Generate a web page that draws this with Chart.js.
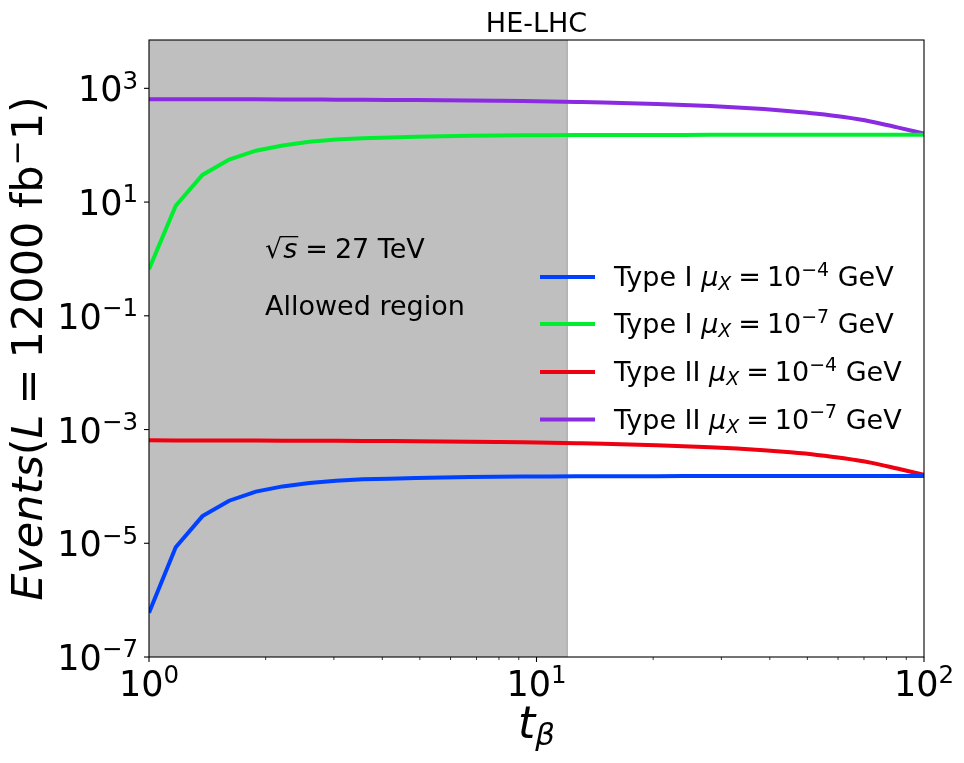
<!DOCTYPE html>
<html>
<head>
<meta charset="utf-8">
<script src="https://cdn.jsdelivr.net/npm/chart.js@4.4.1/dist/chart.umd.min.js"></script>
<style>
html,body{margin:0;padding:0;background:#fff;}
#wrap{width:964px;height:763px;}
</style>
</head>
<body>
<div id="wrap"><canvas id="c" width="964" height="763"></canvas></div>
<script>
// ---- data ----
const tBeta = [1, 1.172, 1.374, 1.610, 1.887, 2.212, 2.593, 3.039, 3.562, 4.175, 4.894, 5.736, 6.723, 7.880, 9.237,
  10.83, 12.69, 14.87, 17.43, 20.43, 23.95, 28.07, 32.90, 38.57, 45.20, 52.98, 62.10, 72.79, 85.32, 100];
const typeI_mu4 = [6.0e-7, 8.5e-6, 3.0e-5, 5.6e-5, 8.1e-5, 1.00e-4, 1.15e-4, 1.26e-4, 1.33e-4, 1.37e-4, 1.41e-4, 1.44e-4, 1.46e-4, 1.48e-4, 1.49e-4,
  1.50e-4, 1.505e-4, 1.51e-4, 1.513e-4, 1.516e-4, 1.518e-4, 1.52e-4, 1.522e-4, 1.523e-4, 1.524e-4, 1.525e-4, 1.526e-4, 1.527e-4, 1.528e-4, 1.528e-4];
const typeI_mu7 = [0.66, 8.6, 30, 56, 80, 99, 115, 126, 133, 137, 141, 144, 146, 148, 149,
  150, 150.5, 151, 151.3, 151.6, 151.8, 152, 152.2, 152.3, 152.4, 152.5, 152.6, 152.7, 152.8, 152.8];
const typeII_mu4 = [6.45e-4, 6.44e-4, 6.43e-4, 6.42e-4, 6.40e-4, 6.38e-4, 6.36e-4, 6.33e-4, 6.30e-4, 6.26e-4, 6.22e-4, 6.17e-4, 6.11e-4, 6.04e-4, 5.96e-4,
  5.86e-4, 5.75e-4, 5.63e-4, 5.48e-4, 5.30e-4, 5.10e-4, 4.88e-4, 4.62e-4, 4.32e-4, 3.97e-4, 3.58e-4, 3.13e-4, 2.62e-4, 2.06e-4, 1.60e-4];
const typeII_mu7 = [645, 644, 643, 642, 640, 638, 636, 633, 630, 626, 622, 617, 611, 604, 596,
  586, 575, 563, 548, 530, 510, 488, 462, 432, 397, 358, 313, 262, 206, 160];
const seriesNames = ['Type I', 'Type I', 'Type II', 'Type II'];
const seriesExp = ['−4', '−7', '−4', '−7'];
const seriesColors = ['#0040ff', '#00ee30', '#ee0010', '#8a2be2'];
const xTicks = [1, 10, 100];
const xTickExp = ['0', '1', '2'];
const yTicks = [1e-7, 1e-5, 1e-3, 1e-1, 1e1, 1e3];
const yTickExp = ['−7', '−5', '−3', '−1', '1', '3'];
const allowedMax = 12;
const titleText = 'HE-LHC';

const FF = '"DejaVu Sans", sans-serif';
function segFont(s, size){
  const sz = (s.sup || s.sub) ? size * 0.7 : size;
  return (s.it ? 'italic ' : '') + sz.toFixed(2) + 'px ' + FF;
}
function richWidth(ctx, segs, size){
  let w = 0;
  for (const s of segs){ ctx.font = segFont(s, size); w += ctx.measureText(s.t).width + (s.gap || 0); }
  return w;
}
function drawRich(ctx, x, y, segs, size, align, supRaise){
  const w = richWidth(ctx, segs, size);
  let cx = align === 'center' ? x - w / 2 : (align === 'right' ? x - w : x);
  ctx.textAlign = 'left'; ctx.textBaseline = 'alphabetic';
  for (const s of segs){
    ctx.font = segFont(s, size);
    const dy = s.sup ? -(supRaise || 0.36) * size : (s.sub ? 0.16 * size : 0);
    ctx.fillText(s.t, cx, y + dy);
    cx += ctx.measureText(s.t).width + (s.gap || 0);
  }
  return w;
}

const decor = {
  id: 'decor',
  beforeDatasetsDraw(chart){
    const ctx = chart.ctx, a = chart.chartArea, xs = chart.scales.x;
    const xr = xs.getPixelForValue(allowedMax);
    ctx.save();
    ctx.fillStyle = '#bfbfbf';
    ctx.fillRect(a.left, a.top, xr - a.left, a.bottom - a.top);
    ctx.strokeStyle = '#b0b0b0'; ctx.lineWidth = 1.5;
    ctx.beginPath(); ctx.moveTo(xr, a.top); ctx.lineTo(xr, a.bottom); ctx.stroke();
    ctx.restore();
  },
  afterDatasetsDraw(chart){
    const ctx = chart.ctx, a = chart.chartArea, xs = chart.scales.x, ys = chart.scales.y;
    ctx.save();
    ctx.fillStyle = '#000'; ctx.strokeStyle = '#000';
    // frame
    ctx.lineWidth = 1.1;
    ctx.strokeRect(a.left, a.top, a.right - a.left, a.bottom - a.top);
    // x ticks major + minor
    for (const v of xTicks){
      const px = xs.getPixelForValue(v);
      ctx.beginPath(); ctx.moveTo(px, a.bottom); ctx.lineTo(px, a.bottom + 5); ctx.stroke();
    }
    ctx.lineWidth = 0.8;
    for (const d of [1, 10]){
      for (let k = 2; k <= 9; k++){
        const px = xs.getPixelForValue(k * d);
        ctx.beginPath(); ctx.moveTo(px, a.bottom); ctx.lineTo(px, a.bottom + 3); ctx.stroke();
      }
    }
    ctx.lineWidth = 1.1;
    for (const v of yTicks){
      const py = ys.getPixelForValue(v);
      ctx.beginPath(); ctx.moveTo(a.left, py); ctx.lineTo(a.left - 5, py); ctx.stroke();
    }
    // tick labels
    const TS = 35;
    xTicks.forEach((v, i) => {
      const px = xs.getPixelForValue(v);
      drawRich(ctx, px, a.bottom + 39, [{t:'10'}, {t:xTickExp[i], sup:1}], TS, 'center', 0.36);
    });
    yTicks.forEach((v, i) => {
      const py = ys.getPixelForValue(v);
      drawRich(ctx, a.left - 11, py + 13, [{t:'10'}, {t:yTickExp[i], sup:1}], TS, 'right', 0.36);
    });
    // title
    drawRich(ctx, (a.left + a.right) / 2, 32, [{t:titleText}], 27, 'center');
    // x label
    drawRich(ctx, (a.left + a.right) / 2, 738, [{t:'t', it:1}, {t:'β', it:1, sub:1}], 44, 'center');
    // y label
    ctx.save();
    ctx.translate(42, (a.top + a.bottom) / 2);
    ctx.rotate(-Math.PI / 2);
    drawRich(ctx, 0, 0, [{t:'Events', it:1}, {t:'('}, {t:'L', it:1, gap:10}, {t:'=', gap:10}, {t:'12000 fb'}, {t:'−', sup:1}, {t:'1)'}], 43, 'center', 0.36);
    ctx.restore();
    // annotations
    const AS = 27;
    ctx.font = AS + 'px ' + FF;
    const x0 = 265, b0 = 258;
    ctx.textAlign = 'left'; ctx.textBaseline = 'alphabetic';
    ctx.fillText('√', x0, b0);
    const w1 = ctx.measureText('√').width;
    ctx.font = 'italic ' + AS + 'px ' + FF;
    const ws = ctx.measureText('s').width;
    ctx.fillText('s', x0 + w1 + 1, b0);
    ctx.lineWidth = 1.3;
    ctx.beginPath(); ctx.moveTo(x0 + w1 - 1, b0 - 0.79 * AS); ctx.lineTo(x0 + w1 + ws + 2, b0 - 0.79 * AS); ctx.stroke();
    drawRich(ctx, x0 + w1 + ws + 9, b0, [{t:'=', gap:7}, {t:'27 TeV'}], AS, 'left');
    drawRich(ctx, x0, 315, [{t:'Allowed region'}], AS, 'left');
    // legend
    const rows = [277, 324, 372, 419.5];
    rows.forEach((ry, i) => {
      ctx.strokeStyle = seriesColors[i]; ctx.lineWidth = 4;
      ctx.beginPath(); ctx.moveTo(540, ry); ctx.lineTo(595, ry); ctx.stroke();
      ctx.fillStyle = '#000';
      drawRich(ctx, 614, ry + 9, [{t:seriesNames[i] + ' '}, {t:'μ', it:1}, {t:'X', it:1, sub:1, gap:7}, {t:'=', gap:6}, {t:'10'}, {t:seriesExp[i], sup:1}, {t:' GeV'}], 27, 'left', 0.38);
    });
    ctx.restore();
  }
};

function mk(vals){ return tBeta.map((t, i) => ({x: t, y: vals[i]})); }
const datasets = [typeI_mu4, typeI_mu7, typeII_mu4, typeII_mu7].map((vals, i) => ({
  label: seriesNames[i] + ' μX = 10' + seriesExp[i] + ' GeV',
  data: mk(vals),
  borderColor: seriesColors[i],
  backgroundColor: seriesColors[i],
  borderWidth: 4,
  pointRadius: 0,
  tension: 0,
  cubicInterpolationMode: i >= 2 ? 'monotone' : 'default',
  fill: false
}));

new Chart(document.getElementById('c'), {
  type: 'line',
  data: { datasets },
  options: {
    responsive: false,
    animation: false,
    devicePixelRatio: 1,
    layout: { padding: { left: 149, right: 40, top: 40, bottom: 106 } },
    plugins: { legend: { display: false }, title: { display: false }, tooltip: { enabled: false } },
    scales: {
      x: { type: 'logarithmic', min: 1, max: 100, display: false },
      y: { type: 'logarithmic', min: 1e-7, max: 7080, display: false }
    }
  },
  plugins: [decor]
});
</script>
</body>
</html>
